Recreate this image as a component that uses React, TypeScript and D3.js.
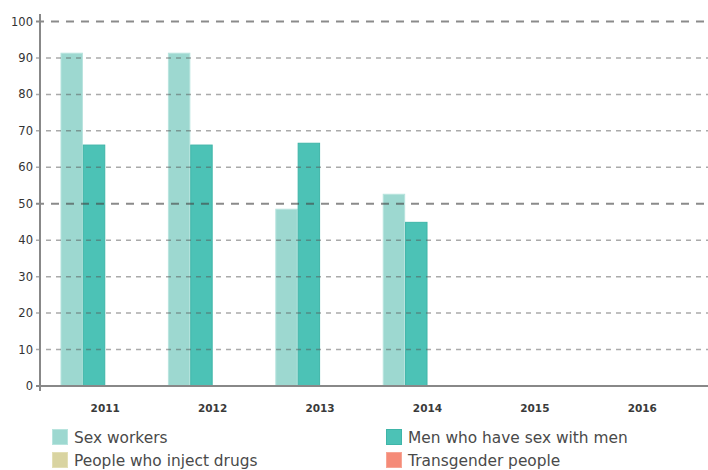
import React from "react";
import * as d3 from "d3";

const years = ["2011", "2012", "2013", "2014", "2015", "2016"];
const seriesNames = ["Sex workers", "Men who have sex with men", "People who inject drugs", "Transgender people"];
const sexWorkers: (number | null)[] = [91.3, 91.3, 48.5, 52.6, null, null];
const msm: (number | null)[] = [66.1, 66.1, 66.6, 44.9, null, null];
const pwid: (number | null)[] = [null, null, null, null, null, null];
const transgender: (number | null)[] = [null, null, null, null, null, null];
const yTicks = [0, 10, 20, 30, 40, 50, 60, 70, 80, 90, 100];
const seriesValues = [sexWorkers, msm, pwid, transgender];
const fills = ["#9dd8d0", "#4cc2b6", "#d9d4a1", "#f58b78"];
const strokes = ["#b8e4de", "#3fb5a8", "#e3dfb5", "#f7a595"];

const W = 708;
const H = 470;
const FONT = "'DejaVu Sans', Verdana, sans-serif";

export default function App() {
  const y = d3.scaleLinear().domain([0, 100]).range([386, 21.5]);
  const x0 = d3.scaleBand<string>().domain(years).range([51.5, 696]).padding(0);
  const groupW = x0.bandwidth() * 0.84;
  const x1 = d3.scaleBand<string>().domain(seriesNames).range([0, groupW]).padding(0.04);

  const legendPos = [
    { x: 52, y: 429 },
    { x: 386, y: 429 },
    { x: 52, y: 452 },
    { x: 386, y: 452 },
  ];

  return (
    <svg width={W} height={H} style={{ position: "absolute", left: 0, top: 0, background: "#fff" }} fontFamily={FONT}>
      {/* bars */}
      {seriesValues.map((vals, si) =>
        vals.map((v, i) => {
          if (v == null) return null;
          const cx = (x0(years[i]) as number) + x0.bandwidth() / 2;
          const bx = cx - groupW / 2 + (x1(seriesNames[si]) as number);
          return (
            <rect
              key={`${si}-${i}`}
              x={bx}
              y={y(v)}
              width={x1.bandwidth()}
              height={y(0) - y(v)}
              fill={fills[si]}
              stroke={strokes[si]}
              strokeWidth={1}
            />
          );
        })
      )}
      {/* grid */}
      {yTicks.filter((t) => t > 0).map((t) => {
        const major = t % 50 === 0;
        return (
          <line
            key={t}
            x1={36}
            x2={W}
            y1={y(t)}
            y2={y(t)}
            stroke={major ? "#444" : "#555"}
            strokeOpacity={major ? 0.62 : 0.5}
            strokeWidth={major ? 2 : 1.5}
            strokeDasharray={major ? "8 7" : "5 5"}
          />
        );
      })}
      {/* axes */}
      <line x1={40} x2={40} y1={14} y2={391} stroke="#888" strokeWidth={2} />
      <line x1={36} x2={W} y1={y(0)} y2={y(0)} stroke="#888" strokeWidth={2} />
      {yTicks.map((t) => (
        <text key={t} x={33} y={y(t)} dy="0.35em" textAnchor="end" fontSize={11.5} fill="#333">
          {t}
        </text>
      ))}
      {years.map((yr) => (
        <text
          key={yr}
          x={(x0(yr) as number) + x0.bandwidth() / 2}
          y={412}
          textAnchor="middle"
          fontSize={10.5}
          fontWeight="bold"
          fill="#3a3a3a"
        >
          {yr}
        </text>
      ))}
      {/* legend */}
      {seriesNames.map((s, i) => (
        <g key={s} transform={`translate(${legendPos[i].x},${legendPos[i].y})`}>
          <rect x={0.5} y={0.5} width={15} height={15} fill={fills[i]} stroke={strokes[i]} strokeWidth={1} />
          <text x={22} y={8} dy="0.36em" fontSize={15.4} fill="#4a4a4a">
            {s}
          </text>
        </g>
      ))}
    </svg>
  );
}
